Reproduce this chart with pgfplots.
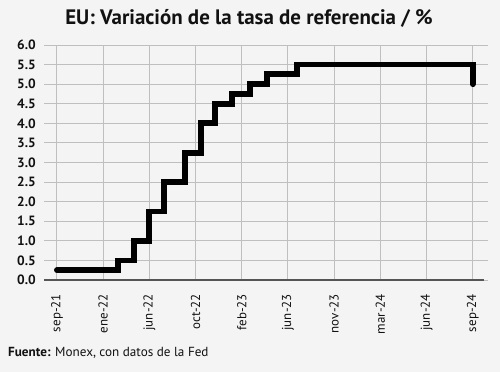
\documentclass[border=0pt]{standalone}
\usepackage{pgfplots}
\pgfplotsset{compat=1.18}
\usepackage{fontspec}
\setmainfont{PT Sans}
\definecolor{bg}{HTML}{F4F4F4}
\definecolor{grid}{HTML}{DDDDDD}
\definecolor{axl}{HTML}{555555}
\definecolor{txt}{HTML}{111111}
\begin{document}
\begin{tikzpicture}[x=1bp,y=1bp]
\fill[bg] (0,0) rectangle (500,372);
\node[font=\bfseries\fontsize{21}{23}\selectfont, text=txt, anchor=center] at (249,354) {EU: Variación de la tasa de referencia / \%};
\node[font=\fontsize{13.2}{15}\selectfont, text=txt, anchor=west, inner sep=0] at (8,19) {\textbf{Fuente:} Monex, con datos de la Fed};
\begin{axis}[
  at={(44bp,92bp)}, anchor=south west,
  scale only axis, width=444bp, height=235bp,
  xmin=-0.28, xmax=9.33, ymin=0, ymax=6,
  axis line style={draw=none},
  xtick={0,...,9},
  xticklabels={sep-21,ene-22,jun-22,oct-22,feb-23,jun-23,nov-23,mar-24,jun-24,sep-24},
  ytick={0,0.5,...,6},
  yticklabel={\pgfmathprintnumber[fixed,fixed zerofill,precision=1]{\tick}},
  /pgf/number format/assume math mode=true,
  major tick length=0,
  ymajorgrids, grid style={grid, line width=1bp},
  xticklabel style={rotate=90, anchor=east, font=\fontsize{13}{14}\selectfont, text=txt, inner sep=0},
  yticklabel style={font=\bfseries\fontsize{13.5}{14}\selectfont, text=txt, inner sep=0},
  xticklabel shift=14bp,
  yticklabel shift=8bp,
  clip=false,
]
\draw[axl, line width=1.2bp] (axis cs:-0.28,0) -- (axis cs:9.25,0);
\addplot[black, line width=5.8bp, line cap=round, line join=miter, const plot] coordinates {
(0,0.25) (1.32,0.5) (1.67,1.0) (1.99,1.75) (2.32,2.5) (2.77,3.25) (3.12,4.0) (3.42,4.5) (3.79,4.75) (4.18,5.0) (4.55,5.25) (5.19,5.5) (9.0,5.0)
};
\end{axis}
\end{tikzpicture}
\end{document}
